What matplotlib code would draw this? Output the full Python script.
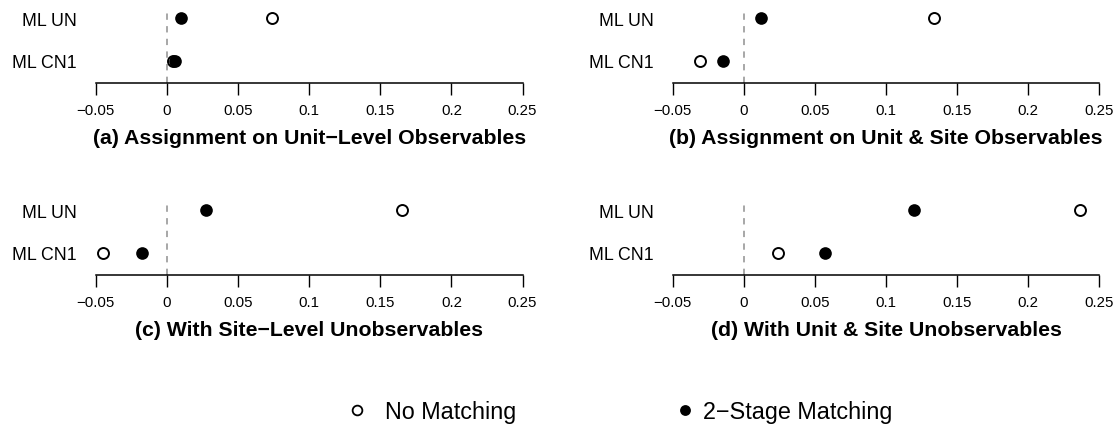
import matplotlib
matplotlib.use("Agg")
import matplotlib.pyplot as plt
from matplotlib.lines import Line2D

plt.rcParams['font.family'] = ['Liberation Sans', 'DejaVu Sans']

# rows of each dot plot, bottom to top
models = ["ML CN1", "ML UN"]

# estimates per panel, in the same order as models
a_none = [0.0046, 0.0737]
a_two = [0.0056, 0.0103]
b_none = [-0.031, 0.134]
b_two = [-0.0147, 0.0123]
c_none = [-0.0447, 0.1654]
c_two = [-0.0176, 0.0276]
d_none = [0.0238, 0.236]
d_two = [0.057, 0.1196]

titles = ["(a) Assignment on Unit\u2212Level Observables",
          "(b) Assignment on Unit & Site Observables",
          "(c) With Site\u2212Level Unobservables",
          "(d) With Unit & Site Unobservables"]

xticks = [-0.05, 0, 0.05, 0.1, 0.15, 0.2, 0.25]
xticklabels = ["\u22120.05", "0", "0.05", "0.1", "0.15", "0.2", "0.25"]

W, H = 1117, 427
fig = plt.figure(figsize=(W / 100, H / 100), dpi=100)

# panel placement in pixels: left edge, bottom (axis line) from top
lefts = [78.6, 655.5, 78.6, 655.5]
bottoms = [84, 84, 276, 276]
ax_w, ax_h = 461, 70

panels = [(a_none, a_two), (b_none, b_two), (c_none, c_two), (d_none, d_two)]
ypos = [1, 2]

for i, (none, two) in enumerate(panels):
    ax = fig.add_axes([lefts[i] / W, (H - bottoms[i]) / H, ax_w / W, ax_h / H])
    ax.axvline(0, color='#a0a0a0', lw=1.3, dashes=(3.5, 3.5), zorder=1)
    ax.plot(none, ypos, 'o', ms=7.9, mfc='white', mec='black', mew=1.4,
            ls='none', clip_on=False, zorder=3)
    ax.plot(two, ypos, 'o', ms=9.1, mfc='black', mec='black', mew=0,
            ls='none', clip_on=False, zorder=4)
    ax.set_xlim(-0.062, 0.262)
    ax.set_ylim(0.47, 2.12)
    for s in ['top', 'right', 'left']:
        ax.spines[s].set_visible(False)
    ax.spines['bottom'].set_bounds(-0.05, 0.25)
    ax.spines['bottom'].set_linewidth(1.1)
    ax.set_xticks(xticks)
    ax.set_xticklabels(xticklabels, fontsize=10.8)
    ax.tick_params(axis='x', length=8.5, width=1.0, pad=6.0)
    ax.set_yticks(ypos)
    ax.set_yticklabels(models, fontsize=12.8)
    ax.tick_params(axis='y', length=0, pad=1.5)
    ax.set_facecolor('none')
    ax.annotate(titles[i], xy=(0.5, 0), xycoords='axes fraction',
                xytext=(0, -39.5), textcoords='offset points',
                ha='center', va='center', fontsize=15.3, fontweight='bold')

# legend, one entry at a time so each can sit where it belongs
open_h = Line2D([], [], marker='o', ls='none', ms=7.0, mfc='white',
                mec='black', mew=1.3)
fill_h = Line2D([], [], marker='o', ls='none', ms=7.8, mfc='black',
                mec='black', mew=0)
fig.legend([open_h], ["No Matching"], loc='center left',
           bbox_to_anchor=(345.2 / W, 1 - 413 / H), frameon=False,
           fontsize=16.8, borderpad=0, borderaxespad=0,
           handlelength=1.0, handletextpad=0.69)
fig.legend([fill_h], ["2\u2212Stage Matching"], loc='center left',
           bbox_to_anchor=(673.2 / W, 1 - 413 / H), frameon=False,
           fontsize=16.8, borderpad=0, borderaxespad=0,
           handlelength=1.0, handletextpad=0.26)

fig.savefig("out.png", dpi=100)
